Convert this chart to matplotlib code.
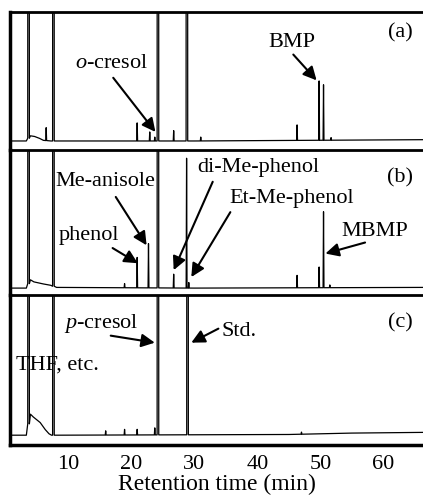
import numpy as np
import matplotlib
matplotlib.use('Agg')
import matplotlib.pyplot as plt

plt.rcParams['font.family'] = ['Liberation Serif', 'DejaVu Serif']
plt.rcParams['mathtext.fontset'] = 'custom'
plt.rcParams['mathtext.rm'] = 'Liberation Serif'
plt.rcParams['mathtext.it'] = 'Liberation Serif:italic'

# retention time (min) and relative signal
# (a)
base_t_a = [0.7, 3.3, 3.95, 4.6, 5.4, 6.0, 7.2, 8.2, 30.0, 66.3]
base_y_a = [0.0, 0.0, 0.04, 0.035, 0.02, 0.005, 0.0, 0.0, 0.0, 0.01]
peak_t_a = [3.65, 6.45, 7.6, 20.9, 22.9, 23.7, 24.2, 26.7, 28.8, 31.0, 46.3, 49.8, 50.5, 51.7]
peak_h_a = [20, 0.10, 20, 0.14, 0.07, 0.03, 20, 0.08, 20, 0.03, 0.12, 0.46, 0.43, 0.02]

# (b)
base_t_b = [0.7, 3.3, 3.95, 4.5, 6.0, 7.2, 8.1, 30.0, 66.3]
base_y_b = [0.0, 0.0, 0.06, 0.045, 0.03, 0.02, 0.005, 0.0, 0.005]
peak_t_b = [3.65, 7.6, 18.9, 20.9, 22.7, 24.2, 26.7, 28.75, 29.1, 46.3, 49.8, 50.5, 51.5]
peak_h_b = [20, 20, 0.03, 0.22, 0.32, 20, 0.10, 0.94, 0.04, 0.09, 0.15, 0.55, 0.02]

# (c)
base_t_c = [0.7, 3.3, 3.95, 4.4, 5.5, 6.3, 6.9, 7.3, 8.2, 45.0, 55.0, 66.3]
base_y_c = [0.0, 0.0, 0.15, 0.13, 0.09, 0.04, 0.01, 0.0, 0.0, 0.005, 0.015, 0.02]
peak_t_c = [3.65, 7.6, 15.9, 18.9, 20.9, 23.7, 24.2, 28.9, 47.0]
peak_h_c = [20, 20, 0.03, 0.04, 0.04, 0.05, 20, 20, 0.015]

ticks = [10, 20, 30, 40, 50, 60]


def trace(base_t, base_y, peak_t, peak_h):
    t = list(base_t)
    y = list(base_y)
    for tc, h in zip(peak_t, peak_h):
        w = 0.13 if h > 1 else 0.07
        foot = np.interp(tc, base_t, base_y)
        t += [tc - w, tc, tc + w]
        y += [foot, foot + h, foot]
    order = np.argsort(t, kind='stable')
    return np.array(t)[order], np.array(y)[order]


fig = plt.figure(figsize=(4.23, 5.0), dpi=100)
ax_a = fig.add_axes([0.0236, 0.70, 0.9764, 0.276])
ax_b = fig.add_axes([0.0236, 0.41, 0.9764, 0.29])
ax_c = fig.add_axes([0.0236, 0.11, 0.9764, 0.30])

panels = [
    (ax_a, base_t_a, base_y_a, peak_t_a, peak_h_a, -0.07),
    (ax_b, base_t_b, base_y_b, peak_t_b, peak_h_b, -0.05),
    (ax_c, base_t_c, base_y_c, peak_t_c, peak_h_c, -0.07),
]
for ax, bt, by, pt, ph, ylo in panels:
    t, y = trace(bt, by, pt, ph)
    ax.plot(t, y, color='k', lw=0.9)
    ax.set_xlim(0.7, 66.3)
    ax.set_ylim(ylo, 1)
    ax.set_yticks([])
    ax.spines['right'].set_visible(False)
    ax.spines['left'].set_linewidth(2.5)
    ax.spines['top'].set_linewidth(2.0)
    ax.spines['bottom'].set_visible(ax is ax_c)
    ax.spines['bottom'].set_linewidth(2.5)
    if ax is not ax_c:
        ax.set_xticks([])

ax_c.set_xticks(ticks)
ax_c.tick_params(axis='x', length=0, pad=7, labelsize=16)
ax_c.set_xlabel('Retention time (min)', fontsize=17, labelpad=0)

arrow = dict(arrowstyle='-|>', color='k', lw=1.5, mutation_scale=20,
             shrinkA=0, shrinkB=0)
fs = 16


def label(ax, txt, pos, start=None, tip=None):
    ax.text(pos[0], pos[1], txt, fontsize=fs, ha='center', va='center')
    if tip is not None:
        ax.annotate('', xy=tip, xytext=start, arrowprops=arrow)


# (a)
label(ax_a, r'$\it{o}$-cresol', (16.8, 0.6), (17.1, 0.49), (23.8, 0.07))
label(ax_a, 'BMP', (45.4, 0.76), (45.7, 0.67), (49.4, 0.47))
label(ax_a, '(a)', (62.7, 0.84))

# (b)
label(ax_b, 'Me-anisole', (15.9, 0.77), (17.5, 0.66), (22.4, 0.31))
label(ax_b, 'phenol', (13.2, 0.38), (17.0, 0.29), (21.0, 0.18))
label(ax_b, 'di-Me-phenol', (40.2, 0.87), (32.9, 0.77), (26.7, 0.13))
label(ax_b, 'Et-Me-phenol', (45.4, 0.65), (35.7, 0.55), (29.5, 0.08))
label(ax_b, 'MBMP', (58.7, 0.41), (57.1, 0.33), (50.8, 0.25))
label(ax_b, '(b)', (62.7, 0.80))

# (c)
label(ax_c, r'$\it{p}$-cresol', (15.2, 0.8), (16.7, 0.71), (23.7, 0.66))
label(ax_c, 'Std.', (37.1, 0.74), (33.8, 0.76), (29.5, 0.66))
label(ax_c, 'THF, etc.', (8.25, 0.5))
label(ax_c, '(c)', (62.7, 0.80))

fig.savefig('out.png', dpi=100)
